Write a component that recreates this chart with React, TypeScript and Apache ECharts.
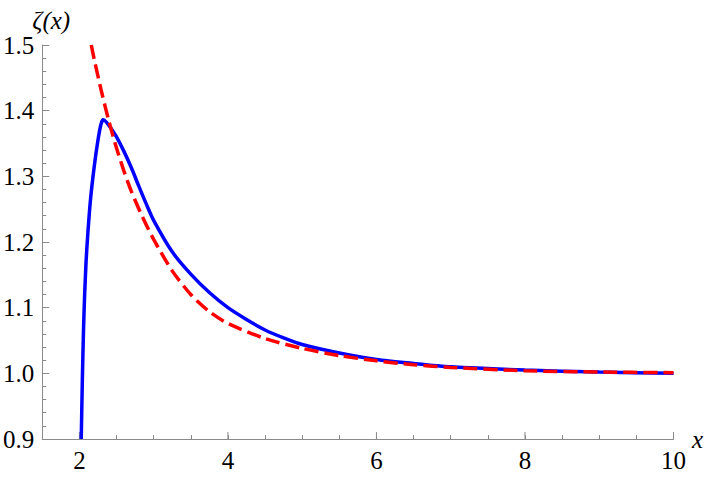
import React, { useEffect, useRef } from "react";
import * as echarts from "echarts";

const xTickLabels = [2, 4, 6, 8, 10];
const yTickLabels = ["0.9", "1.0", "1.1", "1.2", "1.3", "1.4", "1.5"];

const blueX = [2.025, 2.04, 2.056, 2.069, 2.09, 2.115, 2.15, 2.2, 2.25, 2.29, 2.32, 2.36, 2.42, 2.5, 2.6, 2.7, 2.8, 2.9, 3.0, 3.25, 3.5, 3.75, 4.0, 4.25, 4.5, 4.75, 5.0, 5.5, 6.0, 6.5, 7.0, 8.0, 9.0, 10.0];
const blueY = [0.9, 0.99, 1.068, 1.114, 1.17, 1.215, 1.265, 1.315, 1.355, 1.379, 1.386, 1.383, 1.374, 1.36, 1.338, 1.313, 1.285, 1.258, 1.233, 1.185, 1.151, 1.123, 1.1, 1.082, 1.066, 1.054, 1.044, 1.031, 1.021, 1.015, 1.01, 1.005, 1.002, 1.0];

const redX = [2.16, 2.2, 2.3, 2.4, 2.5, 2.6, 2.7, 2.85, 3.0, 3.25, 3.5, 3.75, 4.0, 4.5, 5.0, 5.5, 6.0, 6.5, 7.0, 8.0, 9.0, 10.0];
const redY = [1.5, 1.478, 1.428, 1.383, 1.343, 1.308, 1.277, 1.238, 1.204, 1.156, 1.12, 1.094, 1.076, 1.053, 1.038, 1.027, 1.019, 1.013, 1.009, 1.004, 1.002, 1.001];

const FONT = "'Liberation Serif', 'Times New Roman', serif";
const AXIS = "#8a8a8a";

export default function App() {
  const ref = useRef<HTMLDivElement>(null);
  useEffect(() => {
    if (!ref.current) return;
    const chart = echarts.init(ref.current, undefined, { renderer: "svg" });
    chart.setOption({
      animation: false,
      backgroundColor: "#ffffff",
      grid: { left: 41, right: 29, top: 45, bottom: 40, containLabel: false },
      xAxis: {
        type: "value",
        min: 1.5,
        max: 10,
        interval: 0.5,
        name: "x",
        nameLocation: "end",
        nameGap: 14,
        nameTextStyle: { fontFamily: FONT, fontStyle: "italic", fontSize: 25, color: "#000", verticalAlign: "middle" },
        axisLine: { show: true, onZero: false, lineStyle: { color: AXIS, width: 1 } },
        axisTick: { show: true, inside: true, length: 4, lineStyle: { color: AXIS } },
        axisLabel: {
          show: true,
          margin: 9,
          fontFamily: FONT,
          fontSize: 25,
          color: "#000",
          showMinLabel: true,
          showMaxLabel: true,
          formatter: (v: number) => (xTickLabels.indexOf(v) >= 0 ? String(v) : ""),
        },
        splitLine: { show: false },
      },
      yAxis: {
        type: "value",
        min: 0.9,
        max: 1.5,
        interval: 0.1,
        name: "ζ(x)",
        nameLocation: "end",
        nameGap: 12,
        nameTextStyle: { fontFamily: FONT, fontStyle: "italic", fontSize: 25, color: "#000", padding: [0, 0, 0, 18] },
        axisLine: { show: true, onZero: false, lineStyle: { color: AXIS, width: 1 } },
        axisTick: { show: true, inside: true, length: 7, lineStyle: { color: AXIS } },
        minorTick: { show: true, splitNumber: 5, length: 4, lineStyle: { color: AXIS } },
        axisLabel: {
          margin: 8,
          fontFamily: FONT,
          fontSize: 25,
          color: "#000",
          formatter: (v: number) => {
            const s = v.toFixed(1);
            return yTickLabels.indexOf(s) >= 0 ? s : "";
          },
        },
        splitLine: { show: false },
      },
      series: [
        {
          type: "custom",
          silent: true,
          data: xTickLabels.map((v) => [v, 0.9]),
          renderItem: (params: any, api: any) => {
            const p = api.coord([api.value(0), api.value(1)]);
            return {
              type: "line",
              shape: { x1: p[0], y1: p[1], x2: p[0], y2: p[1] - 7 },
              style: { stroke: AXIS, lineWidth: 1 },
            };
          },
          z: 1,
        },
        {
          type: "line",
          data: blueX.map((x, i) => [x, blueY[i]]),
          showSymbol: false,
          smooth: 0.25,
          lineStyle: { color: "#0000ff", width: 3.5 },
          z: 2,
        },
        {
          type: "line",
          data: redX.map((x, i) => [x, redY[i]]),
          showSymbol: false,
          smooth: 0.25,
          lineStyle: { color: "#ff0000", width: 3.5, type: [14, 6] },
          z: 3,
        },
      ],
    });
    return () => chart.dispose();
  }, []);
  return <div ref={ref} style={{ position: "fixed", left: 0, top: 0, width: 706, height: 479 }} />;
}
